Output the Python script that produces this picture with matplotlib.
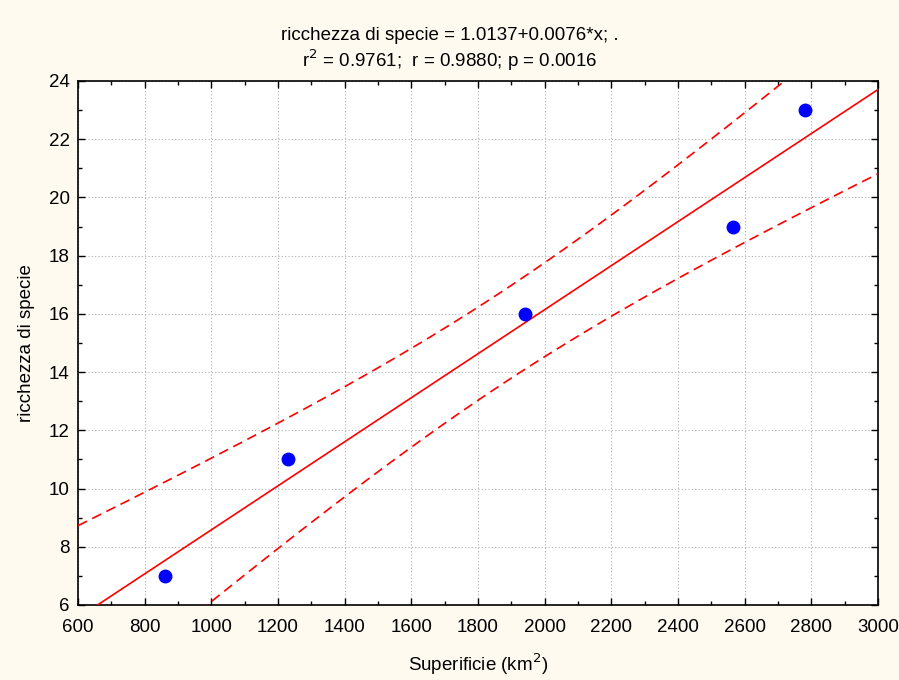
import numpy as np
import matplotlib
matplotlib.use("Agg")
import matplotlib.pyplot as plt
from matplotlib.ticker import MultipleLocator

# data
superficie = [860, 1230, 1940, 2565, 2780]
ricchezza = [7, 11, 16, 19, 23]
xticks = [600, 800, 1000, 1200, 1400, 1600, 1800, 2000, 2200, 2400, 2600, 2800, 3000]
yticks = [6, 8, 10, 12, 14, 16, 18, 20, 22, 24]
t_crit = 3.182  # t(0.975, df=3)

plt.rcParams['font.family'] = ['Liberation Sans', 'DejaVu Sans']

bg = '#fefaf0'
fig = plt.figure(figsize=(8.99, 6.8), dpi=100, facecolor=bg)
ax = fig.add_axes([0.0868, 0.1103, 0.8899, 0.7706])
ax.set_facecolor('white')

x = np.array(superficie, float)
y = np.array(ricchezza, float)
n = len(x)
b, a = np.polyfit(x, y, 1)
resid = y - (a + b * x)
s = np.sqrt(np.sum(resid ** 2) / (n - 2))
sxx = np.sum((x - x.mean()) ** 2)
xs = np.linspace(xticks[0], xticks[-1], 400)
yhat = a + b * xs
se = s * np.sqrt(1.0 / n + (xs - x.mean()) ** 2 / sxx)

ax.plot(xs, yhat, color='#ff0000', lw=1.2, zorder=3)
ax.plot(xs, yhat + t_crit * se, color='#ff0000', lw=1.2, ls=(0, (6, 3.5)), zorder=3)
ax.plot(xs, yhat - t_crit * se, color='#ff0000', lw=1.2, ls=(0, (6, 3.5)), zorder=3)
ax.plot(x, y, 'o', color='#0000ff', ms=9, zorder=4, clip_on=False)

ax.set_xlim(xticks[0], xticks[-1])
ax.set_ylim(yticks[0], yticks[-1])
ax.set_xticks(xticks)
ax.set_yticks(yticks)
ax.xaxis.set_minor_locator(MultipleLocator(100))
ax.yaxis.set_minor_locator(MultipleLocator(1))
ax.tick_params(which='both', direction='in', top=True, right=True,
               labelsize=13.5, color='black')
ax.tick_params(axis='x', which='major', pad=10)
ax.tick_params(axis='y', which='major', pad=6)
ax.tick_params(which='major', length=5, width=1)
ax.tick_params(which='minor', length=3, width=1)
ax.grid(True, which='major', color='#b0b0b0', ls=(0, (1, 2)), lw=0.8)
ax.set_axisbelow(True)
for sp in ax.spines.values():
    sp.set_linewidth(1.2)
    sp.set_color('black')

ax.set_xlabel('Superificie (km$^2$)', fontsize=13.5, labelpad=11)
ax.set_ylabel('ricchezza di specie', fontsize=13.5, labelpad=10)
fig.text(0.5, 0.948, 'ricchezza di specie = 1.0137+0.0076*x; .', ha='center', va='center', fontsize=13.5)
fig.text(0.5, 0.912, 'r$^2$ = 0.9761;  r = 0.9880; p = 0.0016', ha='center', va='center', fontsize=13.5)

fig.savefig('out.png', dpi=100, facecolor=bg)
